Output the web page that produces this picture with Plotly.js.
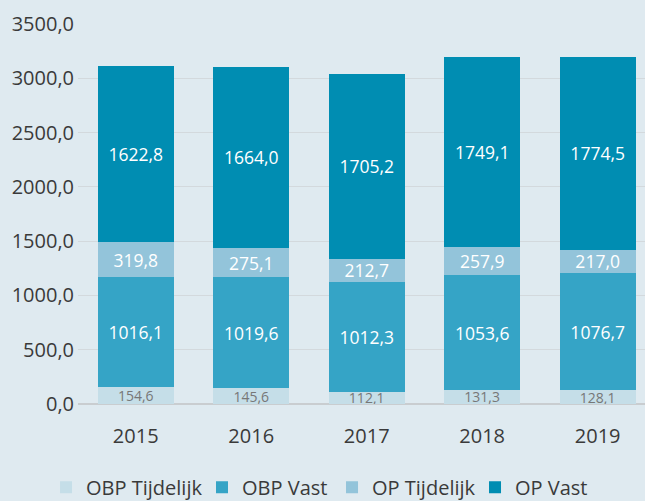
<!DOCTYPE html>
<html><head><meta charset="utf-8">
<script src="https://cdn.plot.ly/plotly-3.0.1.min.js"></script>
<style>html,body{margin:0;padding:0;background:#dfeaf0;}#chart{width:645px;height:501px;}</style>
</head><body><div id="chart"></div>
<script>
var years = ['2015','2016','2017','2018','2019'];
var obpTijdelijk = [154.6, 145.6, 112.1, 131.3, 128.1];
var obpVast = [1016.1, 1019.6, 1012.3, 1053.6, 1076.7];
var opTijdelijk = [319.8, 275.1, 212.7, 257.9, 217.0];
var opVast = [1622.8, 1664.0, 1705.2, 1749.1, 1774.5];
var seriesNames = ['OBP Tijdelijk', 'OBP Vast', 'OP Tijdelijk', 'OP Vast'];
var yTicks = [0, 500, 1000, 1500, 2000, 2500, 3000, 3500];

var colors = ['#c5dee8', '#35a4c6', '#93c4da', '#008db2'];
var legendIds = ['legend', 'legend2', 'legend3', 'legend4'];
var legendX = [-0.0564, 0.2187, 0.4480, 0.7002];
var data = [obpTijdelijk, obpVast, opTijdelijk, opVast];
var traces = data.map(function(vals, i){
  return {
    type: 'bar', x: years, y: vals, name: seriesNames[i], legend: legendIds[i],
    marker: {color: colors[i], line: {width: 0}},
    texttemplate: '%{y:.1f}', textposition: 'inside', insidetextanchor: 'middle',
    constraintext: 'none', textangle: 0,
    textfont: {family: 'Open Sans', size: i === 0 ? 14 : 17.5, color: i === 0 ? '#777777' : '#ffffff'},
    hoverinfo: 'none'
  };
});

var layout = {
  width: 645, height: 501,
  paper_bgcolor: '#dfeaf0', plot_bgcolor: '#dfeaf0',
  barmode: 'stack', bargap: 0.34,
  separators: ', ',
  font: {family: 'Open Sans', size: 20, color: '#3a3a3a'},
  margin: {l: 78, r: 0, t: 24, b: 97, autoexpand: false},
  showlegend: true,
  xaxis: {type: 'category', range: [-0.5, 4.41], showgrid: false, ticks: '',
          ticklabelstandoff: 18, tickfont: {size: 20, color: '#3a3a3a'}, fixedrange: true},
  yaxis: {range: [0, 3500], tickvals: yTicks, tickformat: '.1f', showgrid: true,
          gridcolor: '#d3d9dd', gridwidth: 1, zeroline: true, zerolinecolor: '#c9cdd0', zerolinewidth: 2,
          tickfont: {size: 20, color: '#3a3a3a'}, ticklabelstandoff: 3, fixedrange: true}
};
legendIds.forEach(function(id, i){
  layout[id] = {orientation: 'h', x: legendX[i], xanchor: 'left', y: -0.168, yanchor: 'top',
    font: {size: 20, color: '#3a3a3a'}, bgcolor: 'rgba(0,0,0,0)',
    itemclick: false, itemdoubleclick: false};
});
Plotly.newPlot('chart', traces, layout, {displayModeBar: false, staticPlot: true});
</script></body></html>
